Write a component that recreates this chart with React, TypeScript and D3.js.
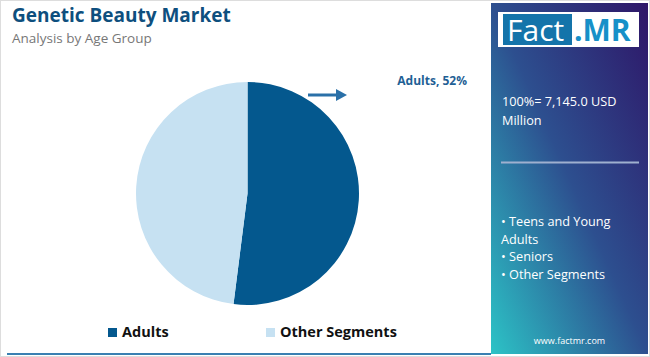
import React from "react";
import * as d3 from "d3";

const categories = ["Adults", "Other Segments"];
const values = [52, 48];
const colors = ["#04588e", "#c6e1f2"];
const title = "Genetic Beauty Market";
const subtitle = "Analysis by Age Group";
const totalLines = ["100%= 7,145.0 USD", "Million"];
const segmentLines = ["• Teens and Young", "Adults", "• Seniors", "• Other Segments"];

const FONT = "'Open Sans', 'Noto Sans', sans-serif";

export default function App() {
  const W = 650, H = 357;
  const cx = 247.5, cy = 193.5, r = 111.5;
  const pie = d3.pie<number>().sort(null).startAngle(0).endAngle(2 * Math.PI);
  const arcs = pie(values);
  const arc = d3.arc<d3.PieArcDatum<number>>().innerRadius(0).outerRadius(r);
  const legendX = d3.scalePoint<string>().domain(categories).range([108, 266]);

  return (
    <svg width={W} height={H} style={{ position: "absolute", left: 0, top: 0, fontFamily: FONT }}>
      <defs>
        <linearGradient id="panelGrad" x1="1" y1="0" x2="0" y2="1">
          <stop offset="0" stopColor="#2e1668" />
          <stop offset="0.5" stopColor="#2d4f8f" />
          <stop offset="1" stopColor="#2cc3c6" />
        </linearGradient>
        <linearGradient id="lineGrad" x1="0" y1="0" x2="1" y2="0">
          <stop offset="0" stopColor="#1d6fa6" />
          <stop offset="1" stopColor="#3a85b8" />
        </linearGradient>
      </defs>
      <rect x={0} y={0} width={W} height={H} fill="#ffffff" />
      <rect x={0.5} y={0.5} width={W - 1} height={H - 1} fill="none" stroke="#dddddd" />

      <text x={12} y={21.5} fontSize={19} fontWeight={700} fill="#0e4f7e">{title}</text>
      <text x={12} y={43} fontSize={13.5} fill="#777777">{subtitle}</text>

      <line x1={5} x2={491} y1={68} y2={68} stroke="url(#lineGrad)" strokeWidth={2} />
      <line x1={7} x2={491} y1={354} y2={354} stroke="#3a80b2" strokeWidth={2} />

      <g transform={`translate(${cx},${cy})`}>
        {arcs.map((a, i) => (
          <path key={categories[i]} d={arc(a) || ""} fill={colors[i]} />
        ))}
      </g>

      <line x1={308} x2={338} y1={95} y2={95} stroke="#2a70a8" strokeWidth={3} />
      <polygon points="336,89 347,95 336,101" fill="#2a70a8" />
      <text x={467} y={85} textAnchor="end" fontSize={12} fontWeight={700} fill="#1f5f95">
        {`${categories[0]}, ${values[0]}%`}
      </text>

      {categories.map((c, i) => (
        <g key={c} transform={`translate(${legendX(c)},328)`}>
          <rect x={0} y={0} width={9} height={9} fill={colors[i]} />
          <text x={14} y={9} fontSize={14.5} fontWeight={700} fill="#111111">{c}</text>
        </g>
      ))}

      <rect x={491} y={3} width={157} height={351} fill="url(#panelGrad)" />
      <rect x={498} y={12} width={141} height={35} fill="#ffffff" />
      <rect x={503} y={14} width={69} height={31} fill="#1474aa" />
      <text x={507} y={41} fontSize={30} fill="#ffffff">Fact</text>
      <text x={574} y={41} fontSize={30} fontWeight={700} fill="#1690c8">.MR</text>

      {totalLines.map((t, i) => (
        <text key={t} x={502} y={106 + i * 19} fontSize={12.7} fill="#ffffff">{t}</text>
      ))}
      <line x1={501} x2={639} y1={162.5} y2={162.5} stroke="#9fb0cf" strokeWidth={2} />
      {segmentLines.map((t, i) => (
        <text key={t} x={501} y={226 + i * 17.7} fontSize={12.7} fill="#ffffff">{t}</text>
      ))}
      <text x={569.5} y={344} textAnchor="middle" fontSize={9} fill="#ffffff">www.factmr.com</text>
    </svg>
  );
}
